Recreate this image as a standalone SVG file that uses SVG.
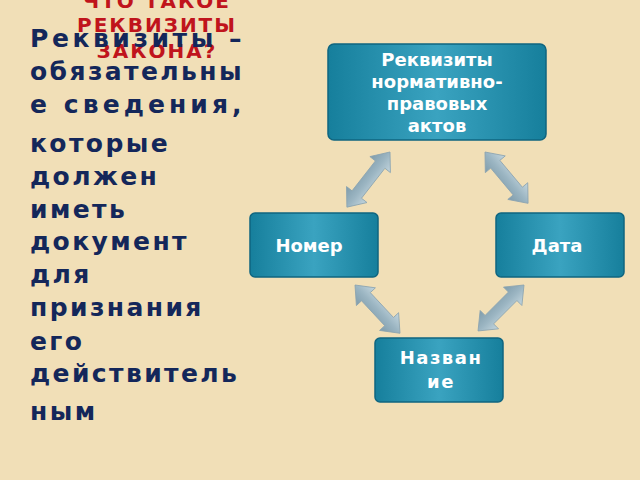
<svg xmlns="http://www.w3.org/2000/svg" width="640" height="480" viewBox="0 0 640 480">
<defs>
<linearGradient id="bx" x1="0" x2="1" y1="0" y2="0">
<stop offset="0" stop-color="#167f9c"/><stop offset="0.5" stop-color="#3aa3c0"/><stop offset="1" stop-color="#167f9c"/>
</linearGradient>
<linearGradient id="ar" x1="0" x2="0" y1="0" y2="1">
<stop offset="0" stop-color="#c4d6de"/><stop offset="0.5" stop-color="#9bb5c2"/><stop offset="1" stop-color="#7f9cab"/>
</linearGradient>
<style>
.box{fill:url(#bx);stroke:#0f6580;stroke-width:1.5}
.nt{font-family:"DejaVu Sans",sans-serif;font-weight:bold;fill:#fff;text-anchor:middle}
.body{font-family:"DejaVu Sans",sans-serif;font-weight:bold;font-size:25px;fill:#14275a;letter-spacing:2.4px}
.title{font-family:"DejaVu Sans",sans-serif;font-weight:bold;font-size:20px;fill:#c0141c;text-anchor:middle;letter-spacing:2px}
.arw{fill:url(#ar);stroke:#8aa3b0;stroke-width:0.8}
</style>
</defs>
<rect width="640" height="480" fill="#f1dfb7"/>
<g id="title">
<text class="title" x="157" y="8">ЧТО ТАКОЕ</text>
<text class="title" x="157" y="32">РЕКВИЗИТЫ</text>
<text class="title" x="157" y="58">ЗАКОНА?</text>
</g>
<g id="body">
<text class="body" x="30" y="47" textLength="214" lengthAdjust="spacing">Реквизиты –</text>
<text class="body" x="30" y="80" textLength="214" lengthAdjust="spacing">обязательны</text>
<text class="body" x="30" y="113" textLength="214" lengthAdjust="spacing">е сведения,</text>
<text class="body" x="30" y="152">которые</text>
<text class="body" x="30" y="185">должен</text>
<text class="body" x="30" y="218">иметь</text>
<text class="body" x="30" y="250">документ</text>
<text class="body" x="30" y="283">для</text>
<text class="body" x="30" y="316">признания</text>
<text class="body" x="30" y="350">его</text>
<text class="body" x="30" y="382">действитель</text>
<text class="body" x="30" y="420">ным</text>
</g>
<g id="connectors">
<path class="arw" transform="translate(390,152) rotate(128)" d="M0,0 L16,-13 L16,-6 L54,-6 L54,-13 L70,0 L54,13 L54,6 L16,6 L16,13 Z"/>
<path class="arw" transform="translate(485,152) rotate(50)" d="M0,0 L16,-13 L16,-6 L51,-6 L51,-13 L67,0 L51,13 L51,6 L16,6 L16,13 Z"/>
<path class="arw" transform="translate(355,285) rotate(47)" d="M0,0 L16,-13 L16,-6 L50,-6 L50,-13 L66,0 L50,13 L50,6 L16,6 L16,13 Z"/>
<path class="arw" transform="translate(524,285) rotate(135)" d="M0,0 L16,-13 L16,-6 L49,-6 L49,-13 L65,0 L49,13 L49,6 L16,6 L16,13 Z"/>
</g>
<g id="n-top">
<rect class="box" x="328" y="44" width="218" height="96" rx="6"/>
<text class="nt" font-size="18" x="437" y="66">Реквизиты</text>
<text class="nt" font-size="18" x="437" y="88">нормативно-</text>
<text class="nt" font-size="18" x="437" y="110">правовых</text>
<text class="nt" font-size="18" x="437" y="132">актов</text>
</g>
<g id="n-nomer">
<rect class="box" x="250" y="213" width="128" height="64" rx="5"/>
<text class="nt" font-size="18" x="309" y="252">Номер</text>
</g>
<g id="n-data">
<rect class="box" x="496" y="213" width="128" height="64" rx="5"/>
<text class="nt" font-size="18" x="557" y="252">Дата</text>
</g>
<g id="n-name">
<rect class="box" x="375" y="338" width="128" height="64" rx="5"/>
<text class="nt" font-size="18" x="441" y="364" letter-spacing="1.5">Назван</text>
<text class="nt" font-size="18" x="441" y="388" letter-spacing="1.5">ие</text>
</g>
</svg>
